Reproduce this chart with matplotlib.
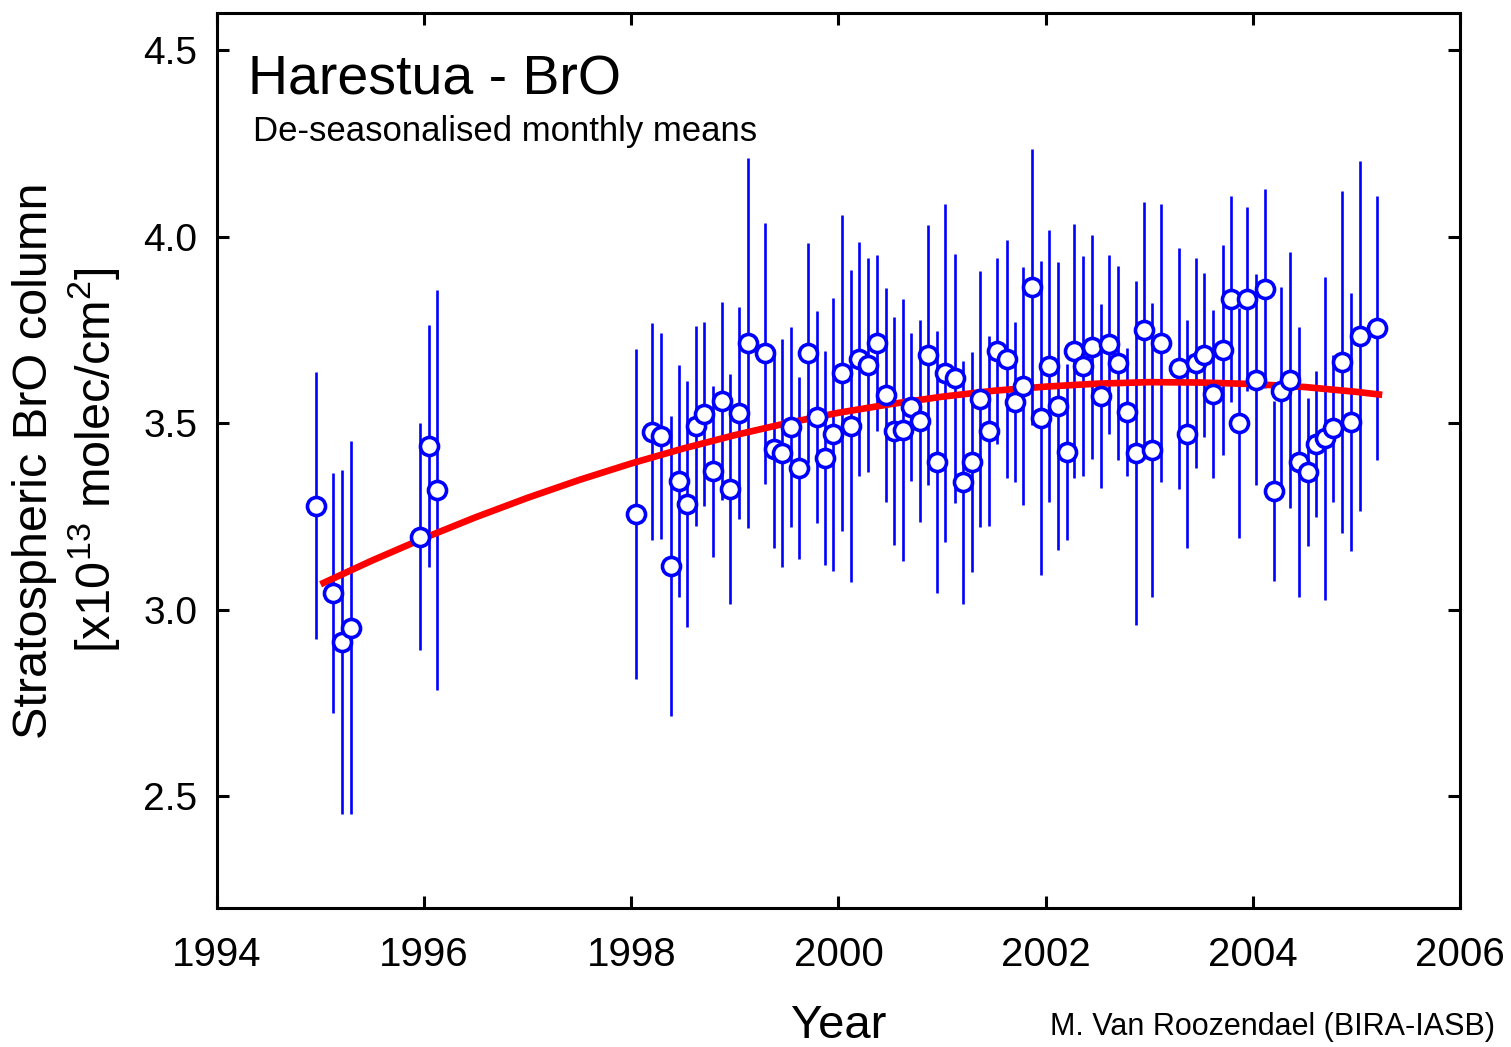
import matplotlib
matplotlib.use('Agg')
import matplotlib.pyplot as plt
from matplotlib import rcParams
import numpy as np

rcParams['font.family'] = ['Liberation Sans', 'DejaVu Sans']
rcParams['mathtext.fontset'] = 'custom'
rcParams['mathtext.rm'] = 'Liberation Sans'
rcParams['mathtext.it'] = 'Liberation Sans:italic'
rcParams['mathtext.bf'] = 'Liberation Sans:bold'

# de-seasonalised monthly means, Harestua BrO column (x1e13 molec/cm2)
years = [1994.956, 1995.123, 1995.204, 1995.293, 1995.959, 1996.046, 1996.127,
         1998.042, 1998.199, 1998.283, 1998.379, 1998.459, 1998.540, 1998.621,
         1998.701, 1998.791, 1998.872, 1998.952, 1999.039, 1999.123, 1999.290,
         1999.374, 1999.457, 1999.538, 1999.618, 1999.702, 1999.789, 1999.869,
         1999.949, 2000.036, 2000.120, 2000.200, 2000.287, 2000.374, 2000.455,
         2000.535, 2000.619, 2000.699, 2000.789, 2000.866, 2000.953, 2001.027,
         2001.124, 2001.204, 2001.285, 2001.365, 2001.455, 2001.532, 2001.623,
         2001.703, 2001.783, 2001.870, 2001.951, 2002.031, 2002.121, 2002.202,
         2002.272, 2002.362, 2002.449, 2002.533, 2002.613, 2002.700, 2002.790,
         2002.868, 2002.948, 2003.028, 2003.115, 2003.286, 2003.368, 2003.450,
         2003.530, 2003.617, 2003.708, 2003.785, 2003.868, 2003.945, 2004.036,
         2004.116, 2004.203, 2004.277, 2004.364, 2004.444, 2004.534, 2004.615,
         2004.695, 2004.775, 2004.866, 2004.946, 2005.040, 2005.204]
bro = [3.279, 3.045, 2.913, 2.951, 3.196, 3.438, 3.320,
       3.257, 3.477, 3.466, 3.117, 3.345, 3.283, 3.492,
       3.524, 3.371, 3.559, 3.323, 3.528, 3.714, 3.687,
       3.432, 3.419, 3.490, 3.379, 3.688, 3.517, 3.407,
       3.470, 3.635, 3.492, 3.673, 3.656, 3.714, 3.575,
       3.479, 3.481, 3.544, 3.507, 3.682, 3.396, 3.634,
       3.620, 3.341, 3.396, 3.564, 3.479, 3.694, 3.672,
       3.557, 3.600, 3.865, 3.513, 3.654, 3.546, 3.423,
       3.694, 3.654, 3.705, 3.572, 3.712, 3.662, 3.530,
       3.420, 3.751, 3.428, 3.714, 3.647, 3.472, 3.661,
       3.682, 3.578, 3.696, 3.834, 3.501, 3.834, 3.617,
       3.861, 3.318, 3.587, 3.615, 3.396, 3.369, 3.444,
       3.459, 3.486, 3.664, 3.503, 3.733, 3.755]
bro_err = [0.357, 0.322, 0.462, 0.500, 0.304, 0.324, 0.536,
           0.442, 0.291, 0.277, 0.403, 0.310, 0.330, 0.268,
           0.247, 0.230, 0.265, 0.308, 0.284, 0.496, 0.349,
           0.268, 0.306, 0.268, 0.244, 0.295, 0.284, 0.287,
           0.367, 0.424, 0.418, 0.314, 0.287, 0.236, 0.287,
           0.306, 0.351, 0.198, 0.271, 0.349, 0.351, 0.453,
           0.335, 0.327, 0.295, 0.343, 0.255, 0.250, 0.319,
           0.214, 0.319, 0.370, 0.421, 0.365, 0.386, 0.236,
           0.340, 0.295, 0.300, 0.247, 0.240, 0.260, 0.172,
           0.461, 0.343, 0.394, 0.373, 0.324, 0.306, 0.282,
           0.220, 0.225, 0.282, 0.276, 0.308, 0.247, 0.284,
           0.268, 0.241, 0.279, 0.343, 0.362, 0.198, 0.196,
           0.434, 0.198, 0.458, 0.346, 0.469, 0.354]

# trend curve
trend_years = [1995.0, 1995.5, 1996.0, 1996.5, 1997.0, 1997.5, 1998.0, 1998.5,
               1999.0, 1999.5, 2000.0, 2000.5, 2001.0, 2001.5, 2002.0, 2002.5,
               2003.0, 2003.5, 2004.0, 2004.5, 2005.0, 2005.25]
trend_bro = [3.068, 3.132, 3.192, 3.248, 3.300, 3.348, 3.392, 3.432,
             3.468, 3.500, 3.528, 3.551, 3.571, 3.587, 3.598, 3.606,
             3.610, 3.609, 3.605, 3.597, 3.584, 3.576]

fig = plt.figure(figsize=(15.11, 10.47), dpi=100)
ax = fig.add_axes([0.1436, 0.1328, 0.8226, 0.8548])

ax.errorbar(years, bro, yerr=bro_err, fmt='none', ecolor='#0000ff',
            elinewidth=1.9, capsize=0, zorder=1)
ax.plot(trend_years, trend_bro, color='#ff0000', lw=4.8, zorder=2,
        solid_capstyle='butt')
ax.plot(years, bro, 'o', ms=13, mfc='white', mec='#0000ff', mew=2.6,
        zorder=3, ls='none')

ax.set_xlim(1994, 2006)
ax.set_ylim(2.2, 4.6)
ax.set_xticks(np.arange(1994, 2007, 2))
ax.set_yticks([2.5, 3.0, 3.5, 4.0, 4.5])
ax.set_yticklabels(['2.5', '3.0', '3.5', '4.0', '4.5'])

for s in ax.spines.values():
    s.set_linewidth(2.2)
ax.tick_params(direction='in', length=8.5, width=2.2, top=True, right=True)
ax.tick_params(axis='x', labelsize=29, pad=20)
ax.tick_params(axis='y', labelsize=28, pad=14)

ax.set_xlabel('Year', fontsize=34, labelpad=22)
ax.set_ylabel('Stratospheric BrO column\n[x10$^{13}$ molec/cm$^{2}$]',
              fontsize=35, linespacing=1.2)
ax.yaxis.set_label_coords(-0.0764, 0.5)

ax.text(0.025, 0.925, 'Harestua - BrO', transform=ax.transAxes,
        fontsize=40, va='center', ha='left')
ax.text(0.029, 0.868, 'De-seasonalised monthly means', transform=ax.transAxes,
        fontsize=25, va='center', ha='left')

fig.text(0.695, 0.019, 'M. Van Roozendael (BIRA-IASB)', fontsize=22,
         ha='left', va='center')

plt.savefig('out.png', dpi=100)
